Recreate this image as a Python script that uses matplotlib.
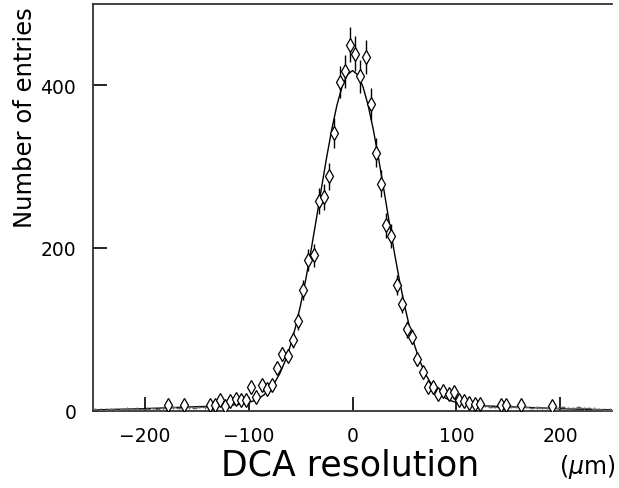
import matplotlib
matplotlib.use("Agg")
import matplotlib.pyplot as plt

# measured histogram (bin width 5 um), open diamonds
dca_x = [-177.5, -162.5, -137.5, -132.5, -127.5, -122.5, -117.5, -112.5, -107.5, -102.5,
         -97.5, -92.5, -87.5, -82.5, -77.5, -72.5, -67.5, -62.5, -57.5, -52.5,
         -47.5, -42.5, -37.5, -32.5, -27.5, -22.5, -17.5, -12.5, -7.5, -2.5,
         2.5, 7.5, 12.5, 17.5, 22.5, 27.5, 32.5, 37.5, 42.5, 47.5,
         52.5, 57.5, 62.5, 67.5, 72.5, 77.5, 82.5, 87.5, 92.5, 97.5,
         102.5, 107.5, 112.5, 117.5, 122.5, 142.5, 147.5, 162.5, 192.5]
entries = [7, 7, 7, 7, 13, 6, 11.5, 14, 13, 13,
           28.6, 17, 32, 27, 32, 52, 70, 67.5, 87, 110,
           148, 185, 191, 258, 263, 288, 341, 404, 417, 450,
           439, 411, 435, 377, 317, 279, 228, 215, 155, 131,
           100, 91, 63, 48, 29, 29, 20, 24, 20, 22.5,
           13, 11.5, 9, 8, 8, 7, 7, 7, 6]
entry_err = [2.6, 2.6, 2.6, 2.6, 3.6, 2.4, 3.4, 3.7, 3.6, 3.6,
             5.3, 4.1, 5.7, 5.2, 5.7, 7.2, 8.4, 8.2, 9.3, 10.5,
             12.2, 13.6, 13.8, 16.1, 16.2, 17.0, 18.5, 20.1, 20.4, 21.2,
             21.0, 20.3, 20.9, 19.4, 17.8, 16.7, 15.1, 14.7, 12.4, 11.4,
             10.0, 9.5, 7.9, 6.9, 5.4, 5.4, 4.5, 4.9, 4.5, 4.7,
             3.6, 3.4, 3.0, 2.8, 2.8, 2.6, 2.6, 2.6, 2.4]

# low-count tail bins (small crosses along the baseline)
tail_x = [-247.5, -242.5, -237.5, -232.5, -227.5, -222.5, -217.5, -212.5, -207.5, -202.5,
          -197.5, -192.5, -187.5, -182.5, -172.5, -167.5, -157.5, -152.5, -147.5, -142.5,
          127.5, 132.5, 137.5, 152.5, 157.5, 167.5, 172.5, 177.5, 182.5, 187.5,
          197.5, 202.5, 207.5, 212.5, 217.5, 222.5, 227.5, 232.5, 237.5, 242.5, 247.5]
tail_y = [2, 1.5, 1.5, 2, 1.5, 2, 2.5, 2, 2.5, 2,
          2.5, 3, 2, 3, 4, 3.5, 4, 3.5, 5, 4,
          6, 5, 4.5, 5, 4.5, 4.5, 3.5, 4, 3.5, 3.5,
          3.5, 4.5, 3, 3.5, 4.5, 3, 3.5, 2.5, 2, 1.5, 1.5]

# fitted curve
fit_x = [-250, -240, -230, -220, -210, -200, -190, -180, -170, -160, -150, -140, -130, -120, -110,
         -100, -95, -90, -85, -80, -75, -70, -65, -60, -55, -50, -45, -40, -35, -30, -25,
         -20, -15, -10, -5, 0, 5, 10, 15, 20, 25, 30, 35, 40, 45, 50, 55, 60, 65, 70, 75,
         80, 85, 90, 95, 100, 110, 120, 130, 140, 150, 160, 170, 180, 190, 200, 210, 220,
         230, 240, 250]
fit_y = [1.1, 1.3, 1.6, 1.9, 2.2, 2.6, 3.0, 3.5, 4.0, 4.5, 4.9, 5.3, 5.8, 6.6, 7.7,
         10.1, 12.2, 15.3, 19.8, 25.9, 34.5, 45.8, 60.6, 79.3, 102.4, 129.9, 161.5, 196.6,
         234.3, 272.9, 310.7, 345.6, 375.5, 398.5, 413, 418, 413, 398.5, 375.5, 345.6,
         310.7, 272.9, 234.3, 196.6, 161.5, 129.9, 102.4, 79.3, 60.6, 45.8, 34.5,
         25.9, 19.8, 15.3, 12.2, 10.1, 7.7, 6.6, 5.8, 5.3, 4.9, 4.5, 4.0, 3.5, 3.0, 2.6, 2.2,
         1.9, 1.6, 1.3, 1.1]

x_ticks = [-200, -100, 0, 100, 200]
y_ticks = [0, 200, 400]

plt.rcParams["font.family"] = ["DejaVu Sans"]

fig = plt.figure(figsize=(6.19, 4.89), dpi=100)
ax = fig.add_axes([0.150, 0.158, 0.839, 0.832])

ax.plot(fit_x, fit_y, color="black", lw=1.0, zorder=2)

ax.errorbar(tail_x, tail_y, xerr=2.5, yerr=1.5, fmt="none",
            ecolor="#666666", elinewidth=0.9, zorder=3)

ax.errorbar(dca_x, entries, yerr=entry_err, fmt="d", ms=7.5, mfc="white",
            mec="black", mew=0.9, ecolor="black", elinewidth=1.0, zorder=4)

ax.set_xlim(-250, 250)
ax.set_ylim(0, 500)
ax.set_xticks(x_ticks)
ax.set_yticks(y_ticks)
ax.set_xticklabels(["\u2212200", "\u2212100", "0", "100", "200"])
ax.tick_params(direction="in", length=10, width=1.2, labelsize=13.5, colors="black")
ax.tick_params(axis="x", pad=11)
ax.tick_params(axis="y", pad=12)

for side in ["left", "top", "bottom"]:
    ax.spines[side].set_linewidth(1.3)
    ax.spines[side].set_color("#333333")
ax.spines["right"].set_visible(False)

fig.text(0.04, 0.76, "Number of entries", rotation=90, ha="center", va="center", fontsize=17.5)
fig.text(0.565, 0.048, "DCA resolution", ha="center", va="center", fontsize=25)
fig.text(0.948, 0.045, "($\\mu$m)", ha="center", va="center", fontsize=17)

fig.savefig("out.png", dpi=100)
